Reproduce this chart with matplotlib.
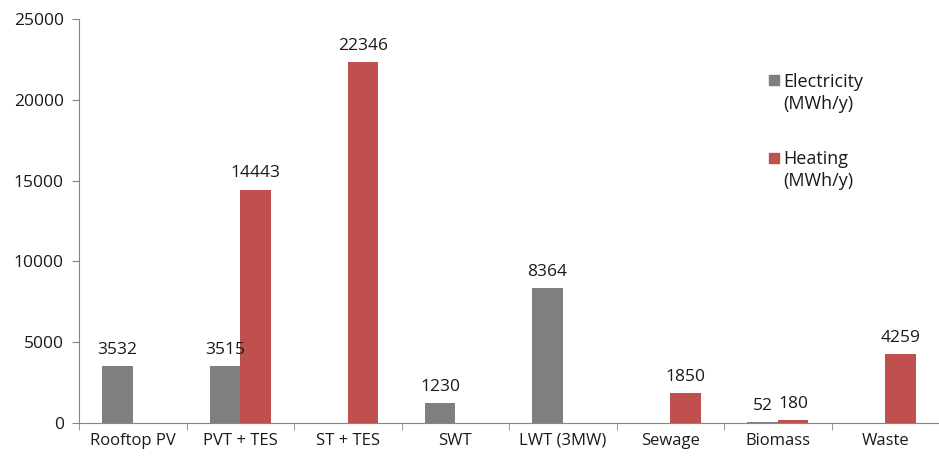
import matplotlib
matplotlib.use("Agg")
import matplotlib.pyplot as plt
import numpy as np
from matplotlib.patches import Rectangle

categories = ["Rooftop PV", "PVT + TES", "ST + TES", "SWT", "LWT (3MW)", "Sewage", "Biomass", "Waste"]
electricity = [3532, 3515, None, 1230, 8364, None, 52, None]
heating = [None, 14443, 22346, None, None, 1850, 180, 4259]
yticks = [0, 5000, 10000, 15000, 20000, 25000]

plt.rcParams['font.family'] = ['Open Sans', 'DejaVu Sans']
grey = '#7f7f7f'
red = '#c0504d'
axc = '#868686'
txt = '#1a1a1a'

fig = plt.figure(figsize=(9.39, 4.58), dpi=100)
W, H = 939, 458
ax = fig.add_axes([79 / W, (H - 423) / H, 1 - 79 / W, (423 - 19) / H])

x = np.arange(len(categories))
bw = 0.285
for i in range(len(categories)):
    if electricity[i] is not None:
        ax.bar(x[i] - bw / 2, electricity[i], bw, color=grey)
        ax.annotate(str(electricity[i]), (x[i] - bw / 2, electricity[i]), xytext=(0, 6),
                    textcoords='offset points', ha='center', va='bottom', fontsize=12.5, color=txt)
    if heating[i] is not None:
        ax.bar(x[i] + bw / 2, heating[i], bw, color=red)
        ax.annotate(str(heating[i]), (x[i] + bw / 2, heating[i]), xytext=(0, 6),
                    textcoords='offset points', ha='center', va='bottom', fontsize=12.5, color=txt)

ax.set_ylim(0, 25000)
ax.set_xlim(-0.5, 7.5 - 10 / 109)
ax.set_yticks(yticks)
ax.set_yticklabels([str(v) for v in yticks], fontsize=12.5, color=txt)
ax.set_xticks(x)
ax.set_xticklabels(categories, fontsize=12, color=txt)
ax.tick_params(axis='x', length=0, pad=7)
ax.set_xticks(np.arange(-0.5, 8, 1), minor=True)
ax.tick_params(axis='x', which='minor', length=5, color=axc, direction='out')
ax.tick_params(axis='y', length=5, color=axc, direction='out', pad=6)
for s in ['top', 'right']:
    ax.spines[s].set_visible(False)
ax.spines['left'].set_color(axc)
ax.spines['bottom'].set_color(axc)

# legend
fig.patches.append(Rectangle((769 / W, (H - 85) / H), 10 / W, 10 / H, color=grey, transform=fig.transFigure))
fig.text(783 / W, (H - 93) / H, "Electricity\n(MWh/y)", fontsize=13, va='center', ha='left',
         linespacing=1.3, color=txt)
fig.patches.append(Rectangle((769 / W, (H - 163) / H), 10 / W, 10 / H, color=red, transform=fig.transFigure))
fig.text(783 / W, (H - 170) / H, "Heating\n(MWh/y)", fontsize=13, va='center', ha='left',
         linespacing=1.3, color=txt)

fig.savefig("out.png", dpi=100)
